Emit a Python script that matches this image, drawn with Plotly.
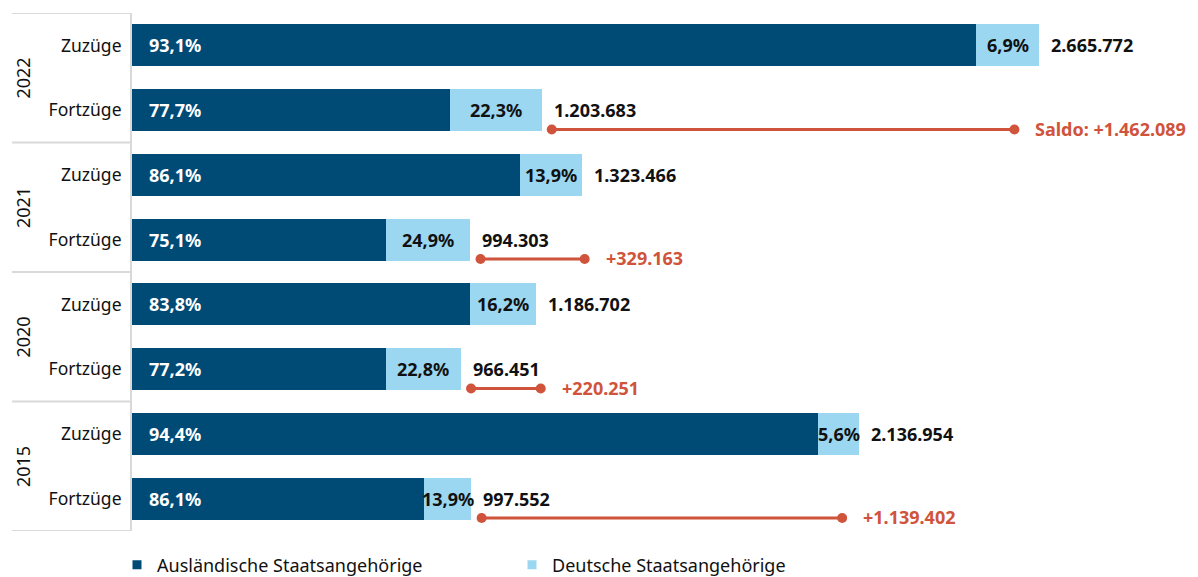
import plotly.graph_objects as go

years = ["2022", "2021", "2020", "2015"]
kinds = ["Zuzüge", "Fortzüge"]
zuzuege_total = [2665772, 1323466, 1186702, 2136954]
fortzuege_total = [1203683, 994303, 966451, 997552]
zuzuege_ausl_pct = [93.1, 86.1, 83.8, 94.4]
fortzuege_ausl_pct = [77.7, 75.1, 77.2, 86.1]
legend_names = ["Ausländische Staatsangehörige", "Deutsche Staatsangehörige"]

DARK = "#004B76"
LIGHT = "#9BD7F0"
RED = "#D0533B"
GRID = "#D9D9D9"
FONT = "Noto Sans"
LBL = 18


def de_pct(v):
    return f"{v:.1f}".replace(".", ",") + "%"


def de_num(v):
    return f"{v:,}".replace(",", ".")


pos, labels, totals, ausl_pct = [], [], [], []
for i, y in enumerate(years):
    for j, k in enumerate(kinds):
        pos.append(i * 2 + j)
        labels.append(k)
        totals.append(zuzuege_total[i] if j == 0 else fortzuege_total[i])
        ausl_pct.append(zuzuege_ausl_pct[i] if j == 0 else fortzuege_ausl_pct[i])

dt_pct = [round(100 - p, 1) for p in ausl_pct]
ausl_val = [t * p / 100 for t, p in zip(totals, ausl_pct)]
dt_val = [t - a for t, a in zip(totals, ausl_val)]

fig = go.Figure()
fig.add_trace(go.Bar(y=pos, x=ausl_val, orientation="h", name=legend_names[0],
                     marker=dict(color=DARK, line=dict(width=0)), width=0.65, showlegend=False))
fig.add_trace(go.Bar(y=pos, x=dt_val, orientation="h", name=legend_names[1],
                     marker=dict(color=LIGHT, line=dict(width=0)), width=0.65, showlegend=False))
# legend entries (small squares)
for name, col in zip(legend_names, [DARK, LIGHT]):
    fig.add_trace(go.Scatter(x=[None], y=[None], mode="markers", name=name,
                             marker=dict(symbol="square", color=col, size=9)))

ann = []
for p, a, d, ap, dp, t in zip(pos, ausl_val, dt_val, ausl_pct, dt_pct, totals):
    ann.append(dict(x=0, y=p, text=f"<b>{de_pct(ap)}</b>", xanchor="left", xshift=15,
                    showarrow=False, font=dict(color="white", size=LBL, family=FONT)))
    ann.append(dict(x=a + d / 2, y=p, text=f"<b>{de_pct(dp)}</b>", xanchor="center",
                    showarrow=False, font=dict(color="#111111", size=LBL, family=FONT)))
    ann.append(dict(x=t, y=p, text=f"<b>{de_num(t)}</b>", xanchor="left", xshift=10,
                    showarrow=False, font=dict(color="#111111", size=LBL, family=FONT)))

# Saldo lines
for i, y in enumerate(years):
    saldo = zuzuege_total[i] - fortzuege_total[i]
    f = fortzuege_total[i]
    yy = i * 2 + 1 + 0.3
    x0 = f + 30000
    x1 = x0 + saldo * 0.93
    fig.add_trace(go.Scatter(x=[x0, x1], y=[yy, yy], mode="lines+markers",
                             line=dict(color=RED, width=3), marker=dict(color=RED, size=10),
                             showlegend=False, hoverinfo="skip"))
    txt = ("Saldo: " if i == 0 else "") + "+" + de_num(saldo)
    ann.append(dict(x=x1, y=yy, text=f"<b>{txt}</b>", xanchor="left", xshift=19, yshift=1,
                    showarrow=False, font=dict(color=RED, size=LBL, family=FONT)))

# Year labels and dividers
shapes = []
for i, y in enumerate(years):
    ann.append(dict(x=-0.1024, xref="paper", y=i * 2 + 0.5, text=y, textangle=-90,
                    xanchor="center", yanchor="middle",
                    showarrow=False, font=dict(color="#111111", size=18, family=FONT)))
for b in range(len(years) + 1):
    shapes.append(dict(type="line", xref="paper", x0=-0.1125, x1=0, y0=b * 2 - 0.5, y1=b * 2 - 0.5,
                       line=dict(color=GRID, width=2)))

fig.update_layout(
    barmode="stack",
    width=1198, height=577,
    margin=dict(l=132, r=0, t=13, b=46),
    plot_bgcolor="white", paper_bgcolor="white",
    font=dict(family=FONT, size=17, color="#111111"),
    xaxis=dict(range=[0, 1066 / 340.24e-6], showgrid=False, showticklabels=False,
               zeroline=False, fixedrange=True),
    yaxis=dict(tickvals=pos, ticktext=labels, range=[len(pos) - 0.5, -0.5],
               showgrid=False, zeroline=False, showline=True, linecolor=GRID, linewidth=2,
               ticks="", ticklabelstandoff=5, tickfont=dict(size=17.5, family=FONT)),
    legend=dict(orientation="h", xref="container", yref="container",
                x=117 / 1198, xanchor="left", y=(577 - 565) / 577, yanchor="middle",
                font=dict(size=18, family=FONT), entrywidth=350, traceorder="normal",
                itemsizing="trace"),
    annotations=ann,
    shapes=shapes,
    showlegend=True,
)

fig.write_html("out.html", config={"displayModeBar": False},
               post_script="document.body.style.margin='0';")
